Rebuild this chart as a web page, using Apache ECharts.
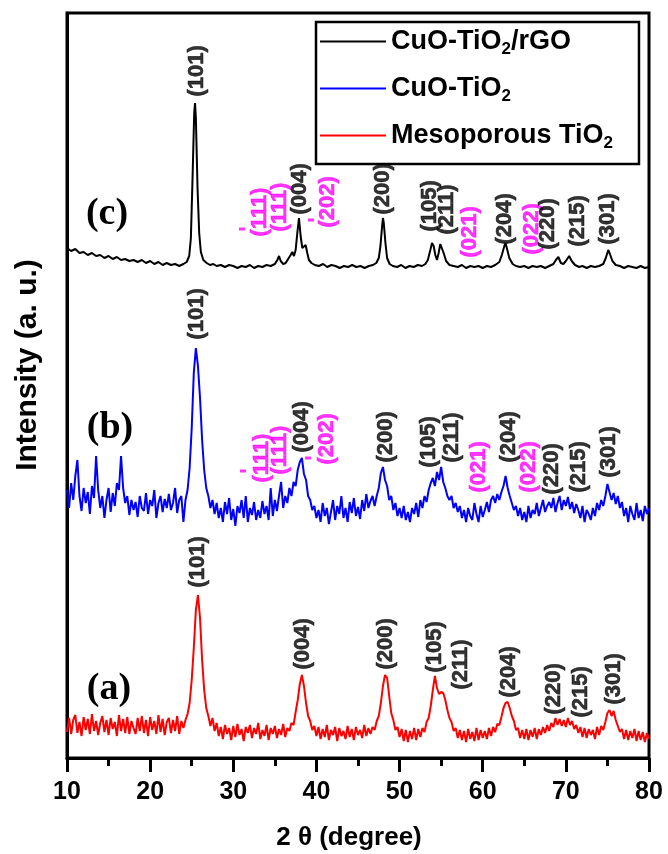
<!DOCTYPE html>
<html>
<head>
<meta charset="utf-8">
<script src="https://cdn.jsdelivr.net/npm/echarts@6/dist/echarts.min.js"></script>
<style>
html,body{margin:0;padding:0;background:#fff;}
#chart{width:668px;height:854px;}
</style>
</head>
<body>
<div id="chart"></div>
<script>
// ---------- DATA ----------
const seriesNames = ['CuO-TiO2/rGO', 'CuO-TiO2', 'Mesoporous TiO2'];
const xTicks = [10, 20, 30, 40, 50, 60, 70, 80];

// (c) CuO-TiO2/rGO : [2theta, intensity (a.u., offset)]
const rgoPattern = [
[10,510],[10.5,507],[11,509],[11.5,505],[12,506],[12.5,503],[13,505],[13.5,502],[14,503],[14.5,500],
[15,502],[15.5,499],[16,501],[16.5,498],[17,499],[17.5,497],[18,498],[18.5,496],[19,498],[19.5,495],
[20,497],[20.5,494],[21,496],[21.5,493],[22,495],[22.5,493],[23,494],[23.5,492],[24,494],[24.4,496],
[24.7,502],[24.9,520],[25.1,580],[25.3,645],[25.4,655],[25.5,640],[25.7,570],[25.9,525],[26.1,506],[26.4,498],
[26.8,495],[27.2,493],[27.6,494],[28,492],[28.5,493],[29,491],[29.5,493],[30,492],[30.5,490],[31,492],
[31.5,491],[32,493],[32.5,490],[33,492],[33.5,491],[34,493],[34.5,492],[35,494],[35.3,498],[35.5,502],
[35.7,497],[36,494],[36.3,495],[36.6,499],[36.9,503],[37.1,506],[37.3,502],[37.5,508],[37.7,525],[37.9,540],
[38.1,522],[38.3,510],[38.5,512],[38.7,513],[38.9,505],[39.1,498],[39.4,495],[39.8,493],[40.3,492],[40.8,494],
[41.3,491],[41.8,493],[42.3,492],[42.8,490],[43.3,492],[43.8,491],[44.3,493],[44.8,491],[45.3,492],[45.8,490],
[46.3,492],[46.8,493],[47.2,495],[47.5,500],[47.7,512],[47.9,532],[48.0,540],[48.1,535],[48.3,515],[48.5,500],
[48.8,494],[49.2,492],[49.7,491],[50.2,493],[50.7,490],[51.2,492],[51.7,491],[52.2,493],[52.7,492],[53.1,494],
[53.4,498],[53.7,508],[53.9,515],[54.1,512],[54.3,503],[54.5,498],[54.7,505],[54.9,514],[55.05,515],[55.3,505],
[55.6,497],[56,493],[56.5,492],[57,491],[57.5,493],[58,490],[58.5,492],[59,491],[59.5,492],[60,490],
[60.5,492],[61,491],[61.5,493],[62,496],[62.3,503],[62.6,512],[62.75,515],[62.9,510],[63.2,500],[63.6,494],
[64,492],[64.5,491],[65,492],[65.5,490],[66,492],[66.5,491],[67,492],[67.5,490],[68,492],[68.5,494],
[68.8,498],[69.1,501],[69.4,495],[69.7,494],[70.0,497],[70.4,502],[70.7,497],[71.1,493],[71.6,491],[72,492],
[72.5,490],[73,492],[73.5,491],[74,492],[74.5,494],[74.8,500],[75.1,508],[75.3,504],[75.6,497],[76,493],
[76.5,492],[77,490],[77.5,492],[78,491],[78.5,490],[79,492],[79.5,490],[80,491]
];

// (b) and (a): intensities sampled every 0.25 degree from 10 to 80
const scanStart = 10, scanStep = 0.25;
const cuoTiO2 = [
268,250,275,258,282,298,262,247,270,255,266,244,272,260,302,268,250,
262,240,258,270,246,265,252,275,268,302,270,255,262,243,258,248,
256,241,262,250,247,265,244,258,252,268,240,255,262,246,259,250,
264,248,255,270,245,258,262,236,
258,268,290,330,385,410,392,360,318,288,270,262,250,258,244,
255,240,250,236,256,244,260,238,249,232,252,245,258,240,262,236,250,243,256,238,248,240,257,244,252,238,270,242,258,247,262,276,250,262,255,
270,262,276,272,288,296,300,284,278,262,258,248,252,240,
248,236,255,242,250,234,246,258,238,252,244,262,240,250,236,256,245,260,242,251,239,258,247,264,250,257,262,
252,262,270,285,291,278,272,258,262,248,255,242,250,
240,252,238,246,236,250,244,255,241,258,250,262,
256,268,275,280,272,286,278,291,276,270,262,258,262,250,255,246,
252,240,248,236,250,242,238,255,244,236,252,241,248,256,246,258,262,255,
264,258,266,272,282,270,262,255,248,252,242,250,238,
246,236,252,240,248,244,255,242,250,258,246,252,256,
250,260,246,255,262,248,258,252,261,249,256,245,254,248,
240,252,236,248,244,238,250,242,255,248,258,252,
262,274,266,258,265,254,262,250,
256,242,250,236,252,244,238,255,240,248,237,252,244,250
];
const mesoTiO2 = [
26,40,24,38,43,25,36,22,41,28,39,24,44,27,37,23,35,
42,26,38,23,40,29,36,22,43,27,39,25,41,24,37,30,
24,40,27,42,25,38,22,41,28,37,24,43,26,39,23,36,
40,25,38,27,42,24,37,30,
38,44,55,78,110,148,163,140,98,68,50,42,32,40,27,
35,22,31,19,33,24,30,18,32,21,34,23,29,17,31,25,33,20,30,24,35,19,28,22,33,18,30,24,32,20,29,23,34,21,30,
27,35,33,46,58,74,83,72,55,42,37,28,32,22,
31,19,29,21,33,18,28,23,31,17,30,22,27,19,32,21,29,18,31,23,28,20,33,22,30,24,31,
28,37,42,55,72,83,80,62,45,38,28,31,21,
29,17,28,16,27,19,30,18,29,21,30,26,
36,40,52,68,82,70,64,66,65,58,48,40,36,27,30,20,
28,18,27,16,29,19,26,17,30,18,28,20,27,19,30,22,31,26,
34,33,41,50,55,56,50,42,37,28,30,20,28,
19,29,18,28,21,30,19,29,23,31,25,33,27,
35,31,40,33,39,32,38,31,40,33,37,29,33,25,
31,21,30,20,29,23,28,19,31,23,32,28,
36,45,48,42,47,38,32,26,
29,19,28,18,27,20,29,17,27,18,26,16,25,19
];

// Peak labels: [text, 2theta, intensity at label foot, kind]  kind: 'a' anatase (black), 'c' CuO (magenta)
const peakLabelsC = [
['(101)',25.6,661,'a'],['(111)',33.2,521,'c'],['(111)',35.6,526,'c'],['(004)',38.0,543,'a'],
['(202)',41.4,530,'c'],['(200)',48.0,543,'a'],['(105)',53.7,526,'a'],['(211)',55.7,523,'a'],
['(021)',58.5,500,'c'],['(204)',62.7,513,'a'],['(022)',65.9,503,'c'],['(220)',67.9,508,'a'],
['(215)',71.5,511,'a'],['(301)',75.1,513,'a']
];
const peakLabelsB = [
['(101)',25.6,418,'a'],['(111)',33.4,275,'c'],['(111)',35.6,283,'c'],['(004)',38.3,305,'a'],
['(202)',41.3,293,'c'],['(200)',48.4,295,'a'],['(105)',53.5,290,'a'],['(211)',56.3,295,'a'],
['(021)',59.6,265,'c'],['(204)',63.2,295,'a'],['(022)',65.6,265,'c'],['(220)',68.3,263,'a'],
['(215)',71.6,265,'a'],['(301)',75.2,280,'a']
];
const peakLabelsA = [
['(101)',25.8,170,'a'],['(004)',38.4,88,'a'],['(200)',48.4,88,'a'],['(105)',54.2,85,'a'],
['(211)',57.4,68,'a'],['(204)',63.2,60,'a'],['(220)',68.6,43,'a'],['(215)',71.8,40,'a'],['(301)',75.8,53,'a']
];
// bars over the negative Miller indices (1-bar 11) and (2-bar 02): [2theta, intensity]
const overbars = [[31.05, 529], [39.35, 538], [31.17, 287], [38.99, 300]];

// ---------- CHART ----------
const chart = echarts.init(document.getElementById('chart'), null, {renderer: 'canvas'});
const toPairs = vals => vals.map((v, i) => [scanStart + i * scanStep, v]);
const SANS = '"Liberation Sans", Arial, sans-serif';
const SERIF = '"Liberation Serif", "Times New Roman", serif';

const labelData = [].concat(peakLabelsC, peakLabelsB, peakLabelsA).map(p => {
  const c = p[3] === 'c' ? '#ff00ff' : '#000000';
  return {
    name: p[0],
    value: [p[1], p[2]],
    label: {color: c, textBorderColor: c, textBorderWidth: 0.6}
  };
});

const legendRich = {
  n: {fontSize: 27, fontWeight: 'bold', fontFamily: SANS, color: '#000'},
  s: {fontSize: 17, fontWeight: 'bold', fontFamily: SANS, color: '#000', padding: [16, 0, 0, 0]}
};
const legendText = {
  'CuO-TiO2/rGO': '{n|CuO-TiO}{s|2}{n|/rGO}',
  'CuO-TiO2': '{n|CuO-TiO}{s|2}',
  'Mesoporous TiO2': '{n|Mesoporous TiO}{s|2}'
};

chart.setOption({
  animation: false,
  backgroundColor: '#ffffff',
  grid: {left: 67, right: 19, top: 13, bottom: 96, show: true, borderColor: '#000', borderWidth: 3, backgroundColor: 'transparent'},
  legend: {
    data: seriesNames,
    orient: 'vertical',
    left: 316, top: 22,
    padding: [6, 26, 12, 4],
    itemGap: 17,
    icon: 'rect',
    itemWidth: 66,
    itemHeight: 2,
    itemTextGap: 8,
    borderColor: '#000',
    borderWidth: 2.5,
    formatter: name => legendText[name],
    textStyle: {rich: legendRich}
  },
  xAxis: {
    type: 'value', min: 10, max: 80, interval: 10,
    axisLine: {show: true, lineStyle: {color: '#000', width: 3}},
    axisTick: {show: true, inside: false, length: 14, lineStyle: {color: '#000', width: 3}},
    minorTick: {show: true, splitNumber: 2, length: 8, lineStyle: {color: '#000', width: 3}},
    splitLine: {show: false},
    axisLabel: {fontSize: 25, fontWeight: 'bold', fontFamily: SANS, color: '#000', margin: 22,
      formatter: v => (xTicks.indexOf(v) >= 0 ? String(v) : '')}
  },
  yAxis: {
    type: 'value', min: 0, max: 745,
    axisLine: {show: true, lineStyle: {color: '#000', width: 3}},
    axisTick: {show: false}, axisLabel: {show: false}, splitLine: {show: false}
  },
  graphic: [
    {type: 'text', x: 28, y: 365, rotation: Math.PI / 2,
      style: {text: 'Intensity (a. u.)', font: 'bold 30px ' + SANS, fill: '#000', textAlign: 'center', textVerticalAlign: 'middle'}},
    {type: 'text', x: 349, y: 838,
      style: {text: '2 \u03b8 (degree)', font: 'bold 26px ' + SANS, fill: '#000', textAlign: 'center', textVerticalAlign: 'middle'}},
    {type: 'text', x: 107, y: 214,
      style: {text: '(c)', font: 'bold 38px ' + SERIF, fill: '#000', textAlign: 'center', textVerticalAlign: 'middle'}},
    {type: 'text', x: 110, y: 428,
      style: {text: '(b)', font: 'bold 38px ' + SERIF, fill: '#000', textAlign: 'center', textVerticalAlign: 'middle'}},
    {type: 'text', x: 109, y: 689,
      style: {text: '(a)', font: 'bold 38px ' + SERIF, fill: '#000', textAlign: 'center', textVerticalAlign: 'middle'}}
  ],
  series: [
    {name: seriesNames[0], type: 'line', data: rgoPattern, symbol: 'none', lineStyle: {color: '#000000', width: 2}, itemStyle: {color: '#000000'}, z: 3},
    {name: seriesNames[1], type: 'line', data: toPairs(cuoTiO2), symbol: 'none', lineStyle: {color: '#0000ff', width: 2}, itemStyle: {color: '#0000ff'}, z: 3},
    {name: seriesNames[2], type: 'line', data: toPairs(mesoTiO2), symbol: 'none', lineStyle: {color: '#ff0000', width: 2}, itemStyle: {color: '#ff0000'}, z: 3},
    {name: 'peaks', type: 'scatter', data: labelData, symbol: 'circle', symbolSize: 1, itemStyle: {color: 'rgba(0,0,0,0)'}, silent: true, z: 5,
      labelLayout: {hideOverlap: false},
      label: {show: true, formatter: '{b}', rotate: 90, position: 'top', distance: 0, align: 'left', verticalAlign: 'middle',
        fontSize: 22, fontWeight: 'bold', fontFamily: SANS}},
    {name: 'overbars', type: 'scatter', data: overbars, symbol: 'rect', symbolSize: [6, 3], itemStyle: {color: '#ff00ff'}, silent: true, z: 5}
  ]
});
</script>
</body>
</html>
